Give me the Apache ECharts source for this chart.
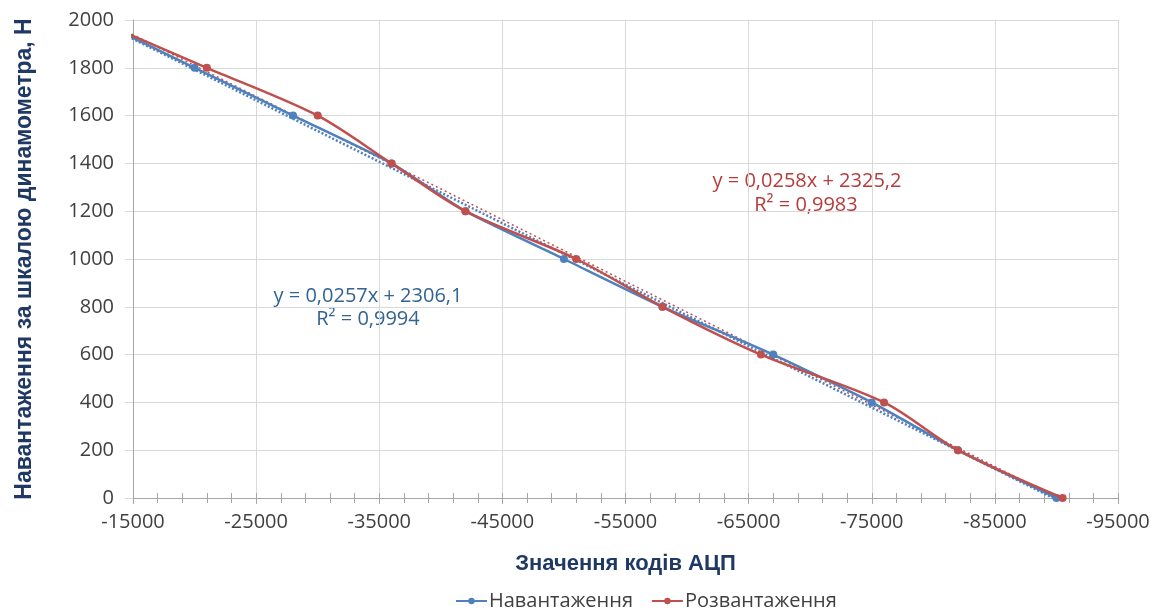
<!DOCTYPE html>
<html>
<head>
<meta charset="utf-8">
<script src="https://cdn.jsdelivr.net/npm/echarts@6/dist/echarts.min.js"></script>
<style>html,body{margin:0;padding:0;background:#fff}#c{width:1165px;height:611px}</style>
</head>
<body>
<div id="c"></div>
<script>
// Series data (ADC codes vs load, N)
const loadX   = [-12000, -20000, -28000, -36000, -42000, -50000, -58000, -67000, -75000, -82000, -90000];
const loadY   = [2000, 1800, 1600, 1400, 1200, 1000, 800, 600, 400, 200, 0];
const unloadX = [-12000, -21000, -30000, -36000, -42000, -51000, -58000, -66000, -76000, -82000, -90500];
const unloadY = [2000, 1800, 1600, 1400, 1200, 1000, 800, 600, 400, 200, 0];
const trendLoadX   = [-12000, -90000];
const trendLoadY   = [1998, -7];
const trendUnloadX = [-12000, -90500];
const trendUnloadY = [2016, -10];
const seriesNames = ['Навантаження', 'Розвантаження'];
const eqLoad   = ['y = 0,0257x + 2306,1', 'R² = 0,9994'];
const eqUnload = ['y = 0,0258x + 2325,2', 'R² = 0,9983'];

const zip = (xs, ys) => xs.map((x, i) => [x, ys[i]]);
const BLUE = '#4F81BD', RED = '#C0504D';
const FONT = '"Open Sans", "Noto Sans", sans-serif';
const BOLD = '"Liberation Sans", Arial, sans-serif';
const plain = v => String(v);

const baseX = {
  type: 'value', min: -95000, max: -15000, interval: 10000, inverse: true,
  position: 'bottom'
};

const chart = echarts.init(document.getElementById('c'));
chart.setOption({
  animation: false,
  grid: { left: 133, right: 47, top: 20, bottom: 113, containLabel: false },
  xAxis: [
    Object.assign({}, baseX, {
      name: 'Значення кодів АЦП', nameLocation: 'middle', nameGap: 55,
      nameTextStyle: { fontFamily: BOLD, fontWeight: 'bold', fontSize: 22, color: '#1F3864' },
      axisLine: { show: true, lineStyle: { color: '#A6A6A6', width: 1 } },
      axisTick: { show: true, inside: false, length: 6, lineStyle: { color: '#A6A6A6' } },
      minorTick: { show: true, splitNumber: 5, length: 5, lineStyle: { color: '#A6A6A6' } },
      axisLabel: { fontFamily: FONT, fontSize: 20, color: '#404040', margin: 14, formatter: plain },
      splitLine: { show: true, lineStyle: { color: '#D9D9D9', width: 1 } }
    }),
    Object.assign({}, baseX, {
      axisLine: { show: false },
      axisTick: { show: true, inside: true, length: 5, lineStyle: { color: '#A6A6A6' } },
      minorTick: { show: true, splitNumber: 5, length: 5, lineStyle: { color: '#A6A6A6' } },
      axisLabel: { show: false },
      splitLine: { show: false }
    })
  ],
  yAxis: {
    type: 'value', min: 0, max: 2000, interval: 200,
    name: 'Навантаження за шкалою динамометра, Н', nameLocation: 'middle', nameGap: 97,
    nameTextStyle: { fontFamily: BOLD, fontWeight: 'bold', fontSize: 23, color: '#1F3864' },
    axisLine: { show: true, lineStyle: { color: '#A6A6A6' } },
    axisTick: { show: true, length: 8, lineStyle: { color: '#D9D9D9' } },
    axisLabel: { fontFamily: FONT, fontSize: 20, color: '#404040', margin: 19, formatter: plain },
    splitLine: { show: true, lineStyle: { color: '#D9D9D9' } }
  },
  legend: {
    data: seriesNames, top: 586, left: 450, itemGap: 18,
    itemWidth: 31, itemHeight: 8,
    textStyle: { fontFamily: FONT, fontSize: 20, color: '#404040', padding: [0, 0, 0, -3] }
  },
  series: [
    {
      name: 'trendLoad', type: 'line', data: zip(trendLoadX, trendLoadY),
      symbol: 'none', lineStyle: { color: BLUE, width: 2.5, type: [2, 2] }, z: 1, silent: true
    },
    {
      name: 'trendUnload', type: 'line', data: zip(trendUnloadX, trendUnloadY),
      symbol: 'none', lineStyle: { color: RED, width: 1.5, type: [2, 3] }, z: 1, silent: true
    },
    {
      name: seriesNames[0], type: 'line', data: zip(loadX, loadY), smooth: 0.2,
      symbol: 'circle', symbolSize: 8, itemStyle: { color: BLUE }, lineStyle: { color: BLUE, width: 2.5 }, z: 3
    },
    {
      name: seriesNames[1], type: 'line', data: zip(unloadX, unloadY), smooth: 0.3,
      symbol: 'circle', symbolSize: 8, itemStyle: { color: RED }, lineStyle: { color: RED, width: 2.5 }, z: 4
    }
  ],
  graphic: [
    { type: 'text', x: 807, y: 181, style: { text: eqUnload[0], align: 'center', verticalAlign: 'middle', fontFamily: FONT, fontSize: 20, fill: '#B83B3B' } },
    { type: 'text', x: 806, y: 205, style: { text: eqUnload[1], align: 'center', verticalAlign: 'middle', fontFamily: FONT, fontSize: 20, fill: '#B83B3B' } },
    { type: 'text', x: 368, y: 296, style: { text: eqLoad[0], align: 'center', verticalAlign: 'middle', fontFamily: FONT, fontSize: 20, fill: '#336391' } },
    { type: 'text', x: 368, y: 319, style: { text: eqLoad[1], align: 'center', verticalAlign: 'middle', fontFamily: FONT, fontSize: 20, fill: '#336391' } }
  ]
});
</script>
</body>
</html>
